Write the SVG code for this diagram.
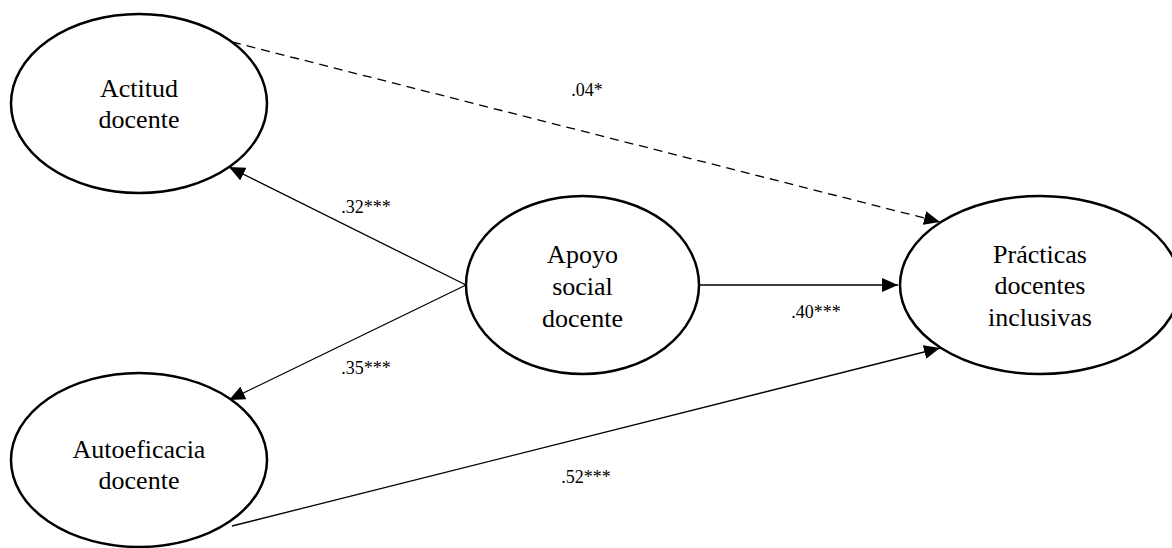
<svg xmlns="http://www.w3.org/2000/svg" width="1172" height="548" viewBox="0 0 1172 548">
<style>
.node{fill:#fff;stroke:#000;stroke-width:2.5}
.lbl{font-family:'Liberation Serif','Tinos','Times New Roman','DejaVu Serif',serif;font-size:26px;fill:#000;text-anchor:middle}
.coef{font-family:'Liberation Serif','Tinos','Times New Roman','DejaVu Serif',serif;font-size:18px;fill:#000;text-anchor:middle}
.edge{fill:none;stroke:#000;stroke-width:1.3;marker-end:url(#arr)}
.dash{stroke-dasharray:9 6}
</style>
<defs>
<marker id="arr" markerUnits="userSpaceOnUse" markerWidth="16" markerHeight="14" viewBox="0 0 16 14" refX="16" refY="7" orient="auto">
<path d="M0,0 L16,7 L0,14 Z" fill="#000"/>
</marker>
</defs>
<rect width="1172" height="548" fill="#fff"/>
<g id="connectors">
<path class="edge dash" d="M232,42 L940,222"/>
<path class="edge" d="M466,285 L229,167"/>
<path class="edge" d="M466,285 L229,400"/>
<path class="edge" d="M699,285 L898,285"/>
<path class="edge" d="M232,526 L940,348"/>
<text class="coef" x="587" y="96" font-family="Liberation Serif, serif">.04*</text>
<text class="coef" x="366" y="213" font-family="Liberation Serif, serif">.32***</text>
<text class="coef" x="366" y="374" font-family="Liberation Serif, serif">.35***</text>
<text class="coef" x="816" y="318" font-family="Liberation Serif, serif">.40***</text>
<text class="coef" x="586" y="483" font-family="Liberation Serif, serif">.52***</text>
</g>
<g id="actitud">
<ellipse class="node" cx="139" cy="103.5" rx="128" ry="89.5"/>
<text class="lbl" x="139" y="97">Actitud</text>
<text class="lbl" x="139" y="128">docente</text>
</g>
<g id="autoeficacia">
<ellipse class="node" cx="139" cy="460" rx="128" ry="87"/>
<text class="lbl" x="139" y="458">Autoeficacia</text>
<text class="lbl" x="139" y="489">docente</text>
</g>
<g id="apoyo">
<ellipse class="node" cx="582.5" cy="285" rx="116.5" ry="89"/>
<text class="lbl" x="582.5" y="263">Apoyo</text>
<text class="lbl" x="582.5" y="295">social</text>
<text class="lbl" x="582.5" y="327">docente</text>
</g>
<g id="practicas">
<ellipse class="node" cx="1040" cy="285" rx="140" ry="89"/>
<text class="lbl" x="1040" y="263">Prácticas</text>
<text class="lbl" x="1040" y="294">docentes</text>
<text class="lbl" x="1040" y="326">inclusivas</text>
</g>
</svg>
